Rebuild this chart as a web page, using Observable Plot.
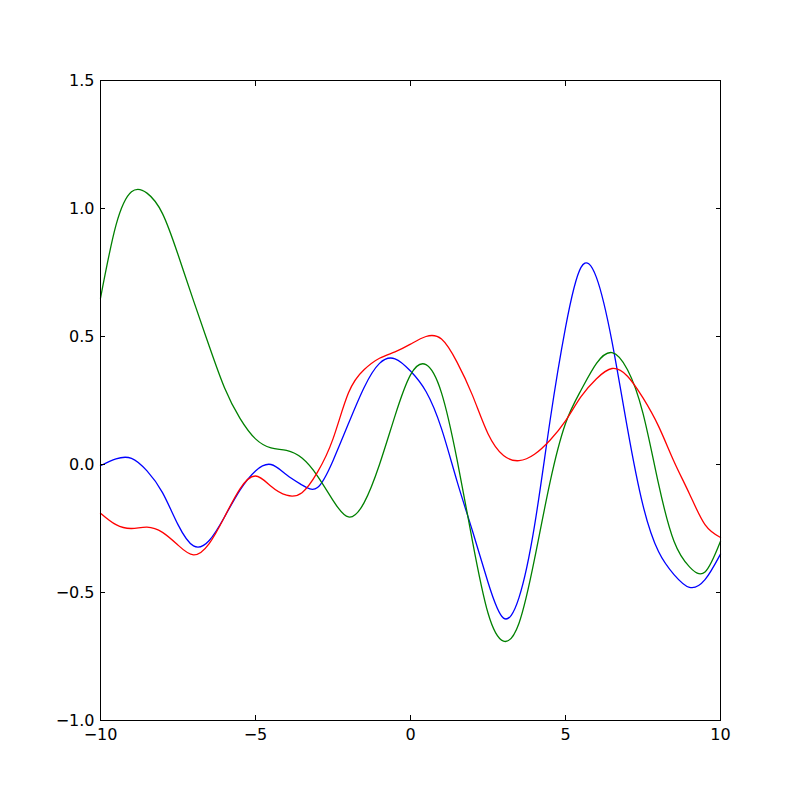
<!DOCTYPE html>
<html>
<head>
<meta charset="utf-8">
<script src="https://cdn.jsdelivr.net/npm/d3@7"></script>
<script src="https://cdn.jsdelivr.net/npm/@observablehq/plot@0.6"></script>
<style>
  html, body { margin: 0; padding: 0; background: white; }
</style>
</head>
<body>
<div id="chart"></div>
<script>
const xs = [-10,-9.5,-9,-8.5,-8,-7.5,-7,-6.5,-6,-5.5,-5,-4.5,-4,-3.5,-3,-2.5,-2,-1.5,-1,-0.5,0,0.5,1,1.5,2,2.5,3,3.5,4,4.5,5,5.5,6,6.5,7,7.5,8,8.5,9,9.5,10];

const blueValues = [-0.005,0.022,0.024,-0.025,-0.11,-0.235,-0.318,-0.298,-0.205,-0.10,-0.025,0.0,-0.04,-0.08,-0.09,0.015,0.16,0.30,0.395,0.413,0.365,0.285,0.14,-0.065,-0.26,-0.46,-0.60,-0.52,-0.24,0.17,0.535,0.77,0.73,0.48,0.14,-0.16,-0.34,-0.43,-0.48,-0.45,-0.35];

const greenValues = [0.65,0.935,1.065,1.06,0.98,0.82,0.64,0.465,0.30,0.18,0.10,0.065,0.055,0.025,-0.045,-0.14,-0.205,-0.15,0.0,0.19,0.35,0.39,0.28,0.02,-0.30,-0.58,-0.69,-0.62,-0.37,-0.07,0.16,0.29,0.395,0.437,0.37,0.20,-0.075,-0.30,-0.40,-0.42,-0.30];

const redValues = [-0.19,-0.235,-0.25,-0.245,-0.265,-0.315,-0.353,-0.31,-0.205,-0.095,-0.045,-0.085,-0.12,-0.11,-0.03,0.10,0.28,0.37,0.415,0.44,0.47,0.50,0.49,0.40,0.27,0.12,0.035,0.015,0.04,0.095,0.17,0.265,0.335,0.375,0.345,0.26,0.15,0.012,-0.115,-0.235,-0.285];

const xTicks = [-10,-5,0,5,10];
const yTicks = [-1.0,-0.5,0.0,0.5,1.0,1.5];

const seriesList = [
  {name: "blue", values: blueValues, color: "#0000ff"},
  {name: "green", values: greenValues, color: "#008000"},
  {name: "red", values: redValues, color: "#ff0000"}
];

const lineMarks = seriesList.map(s =>
  Plot.line(xs.map((x, i) => ({x, y: s.values[i]})), {
    x: "x", y: "y", stroke: s.color, strokeWidth: 1.3, curve: "natural"
  })
);

const fmtX = d3.format("d");
const fmtY = d3.format(".1f");

const chart = Plot.plot({
  width: 800,
  height: 800,
  marginTop: 80,
  marginRight: 80,
  marginBottom: 80,
  marginLeft: 100,
  style: {fontFamily: "DejaVu Sans", fontSize: "16px", background: "white", color: "black"},
  x: {domain: [-10, 10], label: null},
  y: {domain: [-1, 1.5], label: null},
  marks: [
    ...lineMarks,
    Plot.frame({stroke: "black", strokeWidth: 1}),
    Plot.axisX(xTicks, {anchor: "bottom", tickSize: 5, dy: -5, fill: "none", label: null}),
    Plot.axisX(xTicks, {anchor: "top", tickSize: 5, dy: 5, fill: "none", label: null}),
    Plot.axisY(yTicks, {anchor: "left", tickSize: 5, dx: 5, fill: "none", label: null}),
    Plot.axisY(yTicks, {anchor: "right", tickSize: 5, dx: -5, fill: "none", label: null}),
    Plot.axisX(xTicks, {anchor: "bottom", tickSize: 0, tickPadding: 8, tickFormat: fmtX, label: null}),
    Plot.axisY(yTicks, {anchor: "left", tickSize: 0, tickPadding: 6, tickFormat: fmtY, label: null})
  ]
});

document.getElementById("chart").appendChild(chart);
</script>
</body>
</html>
